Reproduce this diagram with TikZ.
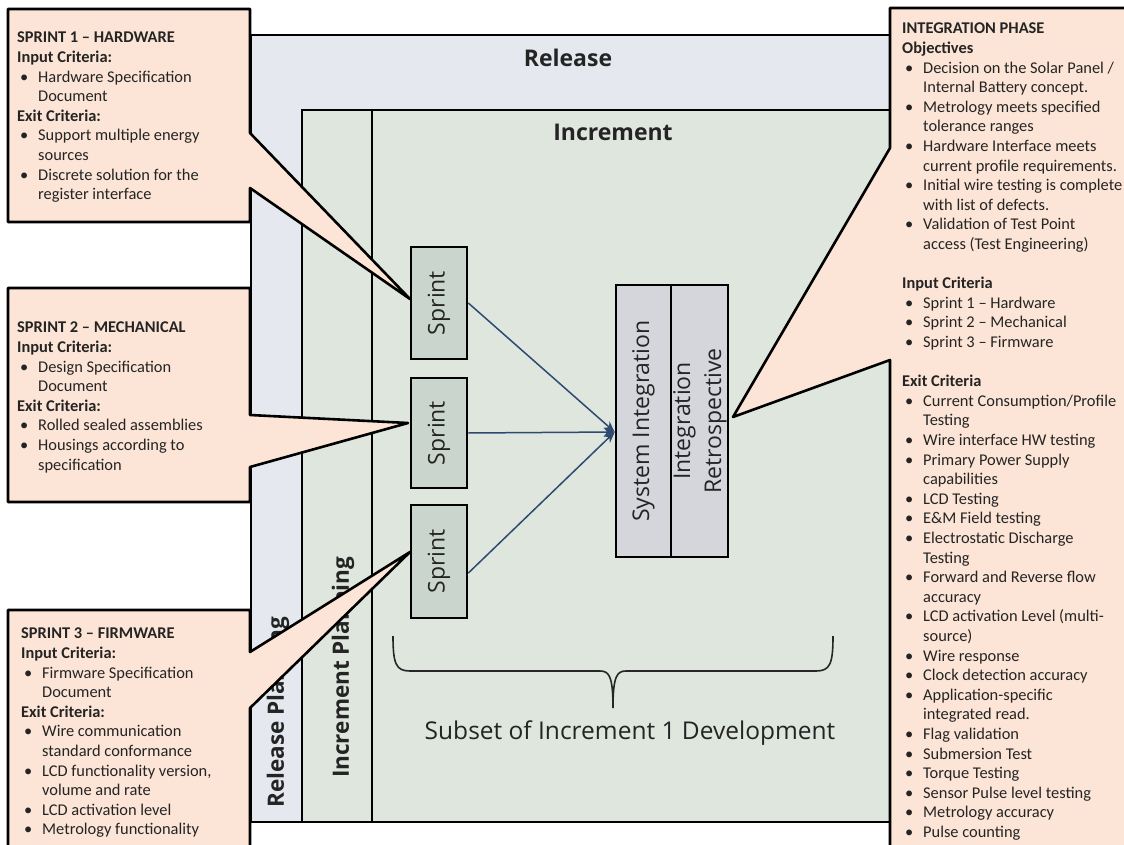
\documentclass[tikz,border=0pt]{standalone}
\usepackage{fontspec}
\setmainfont{Carlito}
\newfontfamily\osans{Open Sans}
\usetikzlibrary{arrows.meta,calc}
\definecolor{peach}{RGB}{252,229,214}
\definecolor{relfill}{RGB}{229,233,239}
\definecolor{incfill}{RGB}{222,230,222}
\definecolor{sprintfill}{RGB}{202,214,205}
\definecolor{intfill}{RGB}{212,214,220}
\definecolor{arrowc}{RGB}{46,74,112}
\definecolor{txt}{RGB}{36,36,36}
\newcommand{\bl}[1]{\hspace*{3pt}\makebox[18pt][l]{•}#1}
\newcommand{\cn}[1]{\hspace*{21pt}#1}
\begin{document}
\begin{tikzpicture}[x=1pt,y=-1pt,
  frame/.style={draw=black,line width=2.6pt},
  callout/.style={fill=peach,draw=black,line width=2.6pt,line join=round},
  ctext/.style={anchor=north west,inner sep=0pt,align=left,text=txt,
    font=\fontsize{16.4}{19.6}\selectfont},
  head/.style={inner sep=0pt,text=txt,font=\osans\bfseries\fontsize{23}{28}\selectfont},
  sidelbl/.style={inner sep=0pt,text=txt,rotate=90,anchor=west,
    font=\osans\bfseries\fontsize{22.5}{28}\selectfont},
  sprintbox/.style={draw=black,line width=2.6pt,fill=sprintfill,minimum width=56pt,
    inner sep=0pt,text=txt,font=\osans\fontsize{23}{28}\selectfont},
  intbox/.style={draw=black,line width=2.6pt,fill=intfill,inner sep=0pt,
    minimum height=272pt,text=txt,font=\osans\fontsize{23}{31}\selectfont},
  flow/.style={draw=arrowc,line width=1.5pt,-{Stealth[length=11pt,width=9pt]}},
  brace/.style={draw=black!85,line width=1.6pt}
]
\clip (0,0) rectangle (1124,845);
\fill[white] (0,0) rectangle (1124,845);
% release and increment frames
\draw[frame,fill=relfill] (251,35) rectangle (890,822);
\draw[frame,fill=incfill] (302,110) rectangle (890,822);
\draw[frame] (372,110) -- (372,822);
\node[head] (rel) at (568,58) {Release};
\node[head] (inc) at (613,132) {Increment};
\node[sidelbl] (relplan) at (278,808) {Release Planning};
\node[sidelbl] (incplan) at (343,778) {Increment Planning};
% sprints
\node[sprintbox,minimum height=112pt] (s1) at (439,303) {\rotatebox{90}{Sprint}};
\node[sprintbox,minimum height=110pt] (s2) at (439,433) {\rotatebox{90}{Sprint}};
\node[sprintbox,minimum height=113pt] (s3) at (439,561.5) {\rotatebox{90}{Sprint}};
% integration
\node[intbox,minimum width=55pt] (sys) at (643.5,421) {};
\node[intbox,minimum width=57pt] (retro) at (699.5,421) {};
\node[text=txt,inner sep=0pt,rotate=90,font=\osans\fontsize{23}{31}\selectfont] (systxt) at (sys) {System Integration};
\node[text=txt,inner sep=0pt,rotate=90,align=center,font=\osans\fontsize{23}{31}\selectfont] (retrotxt) at (700,421) {Integration\\Retrospective};
\coordinate (tgt) at ($(sys.west)+(0,11)$);
\draw[flow] (s1.east) -- (tgt);
\draw[flow] (s2.east) -- (tgt);
\draw[flow] ($(s3.south east)!0.4!(s3.north east)$) -- (tgt);
% brace
\draw[brace] (393,636) .. controls (393,664) and (396,671) .. (410,671) -- (600,671)
  .. controls (609,671) and (613,676) .. (613,708)
  .. controls (613,676) and (617,671) .. (626,671) -- (816,671)
  .. controls (830,671) and (833,664) .. (833,636);
\node[inner sep=0pt,text=txt,font=\osans\fontsize{24.5}{30}\selectfont] (subset) at (630,733) {Subset of Increment 1 Development};
% callouts
\draw[callout] (8,9) -- (250,9) -- (250,133) -- (410,299) -- (250,188) -- (250,222) -- (8,222) -- cycle;
\draw[callout] (8,288) -- (250,288) -- (250,415) -- (408,423) -- (250,467) -- (250,502) -- (8,502) -- cycle;
\draw[callout] (8,610) -- (250,610) -- (250,652) -- (410,552) -- (250,708) -- (250,860) -- (8,860) -- cycle;
\draw[callout] (890,8) -- (1140,8) -- (1140,860) -- (890,860) -- (890,360) -- (733,417) -- (890,148) -- cycle;
\node[ctext] (c1) at (17,32) {\textbf{SPRINT 1 – HARDWARE}\\
\textbf{Input Criteria:}\\
\bl{Hardware Specification}\\
\cn{Document}\\
\textbf{Exit Criteria:}\\
\bl{Support multiple energy}\\
\cn{sources}\\
\bl{Discrete solution for the}\\
\cn{register interface}};
\node[ctext] (c2) at (17,322) {\textbf{SPRINT 2 – MECHANICAL}\\
\textbf{Input Criteria:}\\
\bl{Design Specification}\\
\cn{Document}\\
\textbf{Exit Criteria:}\\
\bl{Rolled sealed assemblies}\\
\bl{Housings according to}\\
\cn{specification}};
\node[ctext] (c3) at (21,628) {\textbf{SPRINT 3 – FIRMWARE}\\
\textbf{Input Criteria:}\\
\bl{Firmware Specification}\\
\cn{Document}\\
\textbf{Exit Criteria:}\\
\bl{Wire communication}\\
\cn{standard conformance}\\
\bl{LCD functionality version,}\\
\cn{volume and rate}\\
\bl{LCD activation level}\\
\bl{Metrology functionality}};
\node[ctext] (c4) at (902,23) {\textbf{INTEGRATION PHASE}\\
\textbf{Objectives}\\
\bl{Decision on the Solar Panel /}\\
\cn{Internal Battery concept.}\\
\bl{Metrology meets specified}\\
\cn{tolerance ranges}\\
\bl{Hardware Interface meets}\\
\cn{current profile requirements.}\\
\bl{Initial wire testing is complete}\\
\cn{with list of defects.}\\
\bl{Validation of Test Point}\\
\cn{access (Test Engineering)}\\[19.6pt]
\textbf{Input Criteria}\\
\bl{Sprint 1 – Hardware}\\
\bl{Sprint 2 – Mechanical}\\
\bl{Sprint 3 – Firmware}\\[19.6pt]
\textbf{Exit Criteria}\\
\bl{Current Consumption/Profile}\\
\cn{Testing}\\
\bl{Wire interface HW testing}\\
\bl{Primary Power Supply}\\
\cn{capabilities}\\
\bl{LCD Testing}\\
\bl{E\&M Field testing}\\
\bl{Electrostatic Discharge}\\
\cn{Testing}\\
\bl{Forward and Reverse flow}\\
\cn{accuracy}\\
\bl{LCD activation Level (multi-}\\
\cn{source)}\\
\bl{Wire response}\\
\bl{Clock detection accuracy}\\
\bl{Application-specific}\\
\cn{integrated read.}\\
\bl{Flag validation}\\
\bl{Submersion Test}\\
\bl{Torque Testing}\\
\bl{Sensor Pulse level testing}\\
\bl{Metrology accuracy}\\
\bl{Pulse counting}};
\end{tikzpicture}
\end{document}
